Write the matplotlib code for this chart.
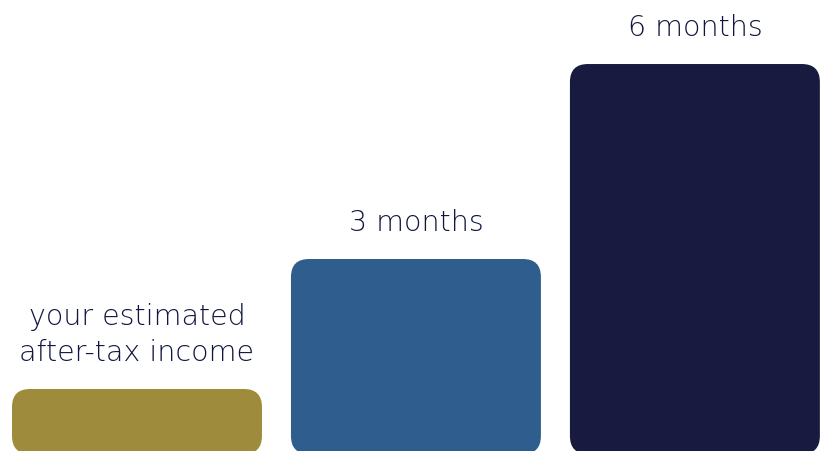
import matplotlib
matplotlib.use("Agg")
import matplotlib.pyplot as plt
from matplotlib.patches import FancyBboxPatch

# data
categories = ["your estimated\nafter-tax income", "3 months", "6 months"]
values = [1, 3, 6]
colors = ["#9E8C3C", "#2F5E8E", "#181A3F"]
text_color = "#10163f"

fig = plt.figure(figsize=(8.21, 4.51), dpi=100)
ax = fig.add_axes([0, 0, 1, 1])
ax.set_xlim(-0.491, 2.452)
ax.set_ylim(0.046, 6.985)
ax.axis("off")

bar_w = 0.896
# pixel -> data scale for rounding corners
x_per_px = (2.452 + 0.491) / 821
y_per_px = (6.985 - 0.046) / 451
radius_px = 18
rx = radius_px * x_per_px
aspect = y_per_px / x_per_px

for i, (label, val, col) in enumerate(zip(categories, values, colors)):
    patch = FancyBboxPatch(
        (i - bar_w / 2, 0), bar_w, val,
        boxstyle=f"round,pad=0,rounding_size={rx}",
        mutation_aspect=aspect,
        facecolor=col, edgecolor="none",
    )
    ax.add_patch(patch)
    ax.annotate(label, (i, val), xytext=(0, 15.5), textcoords="offset points",
                ha="center", va="bottom", fontsize=20.5, color=text_color,
                family="DejaVu Sans", weight="light", linespacing=1.4)

fig.savefig("out.png", dpi=100)
